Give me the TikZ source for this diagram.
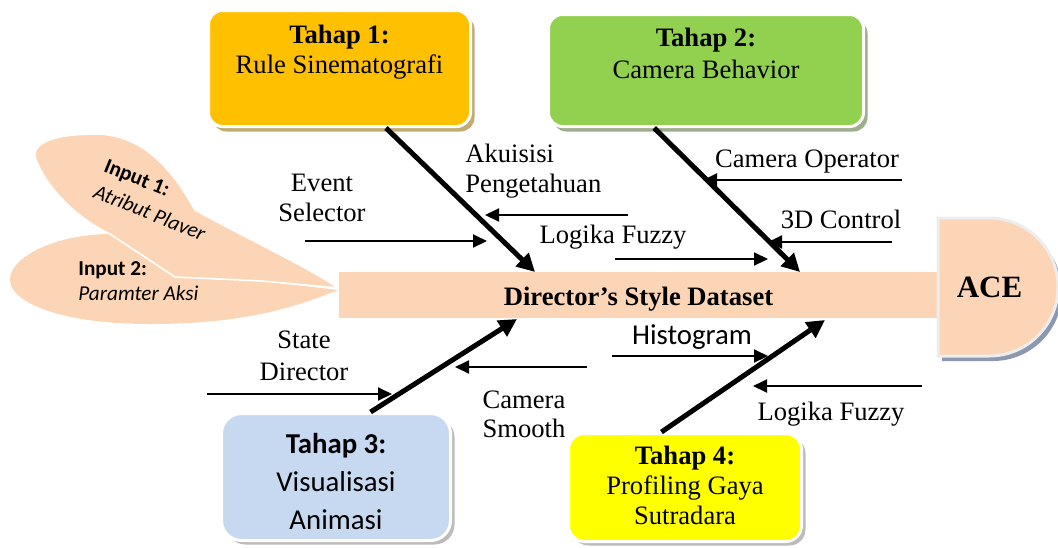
\documentclass[tikz,border=0pt]{standalone}
\usepackage{fontspec}
\setmainfont{Liberation Serif}
\newfontfamily\calibri{Carlito}
\usepackage{xcolor}
\usepackage{tikz}
\usetikzlibrary{arrows.meta,positioning,shadows}

\definecolor{peach}{HTML}{FBD5B5}
\definecolor{amber}{HTML}{FFC000}
\definecolor{leaf}{HTML}{92D050}
\definecolor{sky}{HTML}{C6D9F1}
\definecolor{lemon}{HTML}{FFFF00}
\definecolor{tanshadow}{HTML}{C2AA72}
\definecolor{sageshadow}{HTML}{9DAE8C}
\definecolor{greyshadow}{HTML}{ABABAB}
\definecolor{slateshadow}{HTML}{8C98B0}

\begin{document}
\begin{tikzpicture}[x=0.5pt, y=-0.5pt]

\tikzstyle{stage} = [draw=white, line width=1.5pt, inner sep=0pt]
\tikzstyle{serif} = [font=\fontsize{13.3}{15}\selectfont, inner sep=0pt, align=center]
\tikzstyle{sans} = [font=\calibri\fontsize{14.4}{19}\selectfont, inner sep=0pt, align=center]
\tikzstyle{input} = [font=\calibri\fontsize{10.6}{14}\selectfont, inner sep=0pt, align=left]
\tikzstyle{bone} = [line width=2.5pt, -{Triangle[length=9pt, width=9pt]}]
\tikzstyle{cause} = [line width=1pt, -{Triangle[length=7pt, width=6.5pt]}]

\useasboundingbox (0,0) rectangle (1058,547);

% tails
\fill[peach] (338,290) .. controls (300,305) and (250,324) .. (150,324) .. controls (60,324) and (10,302) .. (10,280) .. controls (10,255) and (60,234) .. (110,234) -- (175,277) -- (262,281) -- cycle;
\filldraw[fill=peach, draw=white, line width=0.8pt] (338,288) .. controls (310,268) and (240,235) .. (195,210) .. controls (170,165) and (140,134) .. (95,134) .. controls (50,134) and (28,145) .. (37,162) .. controls (48,190) and (80,220) .. (110,234) -- (175,277) -- (262,281) -- cycle;
\node[input, rotate=-22] (input1) at (155,200) {\textbf{Input 1:}\\\textit{Atribut Plaver}};
\node[input, anchor=west, font=\calibri\fontsize{10.6}{12.5}\selectfont] (input2) at (78,281.5) {\textbf{Input 2:}\\\textit{Paramter Aksi}};

% spine and head
\node[fill=peach, minimum width=299.5pt, minimum height=23pt, inner sep=0pt, text height=12pt, text depth=2pt, font=\bfseries\fontsize{13.3}{15}\selectfont] (spine) at (638.5,295) {Director's Style Dataset};
\fill[slateshadow] (942,223) -- (993,223) arc[start angle=-90, end angle=90, radius=69] -- (942,361) -- cycle;
\filldraw[fill=peach, draw=black!7, line width=1.5pt] (938,218) -- (989,218) arc[start angle=-90, end angle=90, radius=69] -- (938,356) -- cycle;
\node[font=\bfseries\fontsize{15.5}{18}\selectfont, inner sep=0pt] (ace) at (989.5,287.5) {ACE};

% stages
\node[stage, fill=amber, rounded corners=7pt, minimum width=131pt, minimum height=58pt, drop shadow={shadow xshift=2pt, shadow yshift=-2.5pt, fill=tanshadow, opacity=1}] (tahap1) at (339.5,68.5) {};
\node[serif, below=8pt of tahap1.north] (tahap1-text) {\textbf{Tahap 1:}\\Rule Sinematografi};
\node[stage, fill=leaf, rounded corners=7pt, minimum width=157.5pt, minimum height=56pt, drop shadow={shadow xshift=2pt, shadow yshift=-2.5pt, fill=sageshadow, opacity=1}] (tahap2) at (706,70.5) {};
\node[serif, below=7.5pt of tahap2.north, font=\fontsize{13.3}{16}\selectfont] (tahap2-text) {\textbf{Tahap 2:}\\Camera Behavior};
\node[stage, fill=sky, rounded corners=10pt, minimum width=114.5pt, minimum height=63.5pt, drop shadow={shadow xshift=2pt, shadow yshift=-2pt, fill=greyshadow, opacity=0.8}] (tahap3) at (336,477) {};
\node[sans, below=10.5pt of tahap3.north] (tahap3-text) {\textbf{Tahap 3:}\\Visualisasi\\Animasi};
\node[stage, fill=lemon, rounded corners=8pt, minimum width=116.5pt, minimum height=54pt, drop shadow={shadow xshift=2pt, shadow yshift=-2pt, fill=greyshadow, opacity=0.8}] (tahap4) at (685,487.5) {};
\node[serif, below=7pt of tahap4.north] (tahap4-text) {\textbf{Tahap 4:}\\Profiling Gaya\\Sutradara};

% bones
\coordinate (tip1) at (535,272);
\coordinate (tip2) at (800,272);
\coordinate (tip3) at (517,319);
\coordinate (tip4) at (825,320);
\draw[bone] (tahap1.-52.6) -- (tip1);
\draw[bone] (tahap2.-132) -- (tip2);
\draw[bone] (tahap3.62.4) -- (tip3);
\draw[bone] (tahap4.113.4) -- (tip4);

% causes
\node[serif] (event) at (322,197.5) {Event\\Selector};
\node[serif, align=left, anchor=west] (akuisisi) at (465,171) {Akuisisi\\Pengetahuan};
\node[serif] (fuzzy-top) at (613,237) {Logika Fuzzy};
\node[serif] (operator) at (807,161.5) {Camera Operator};
\node[serif] (control) at (841,219.5) {3D Control};
\node[serif, font=\fontsize{13.3}{16}\selectfont] (state) at (304,355.5) {State\\Director};
\node[serif, font=\fontsize{13.3}{14.5}\selectfont] (smooth) at (524,414) {Camera\\Smooth};
\node[sans] (histogram) at (692,337.5) {Histogram};
\node[serif] (fuzzy-bottom) at (831,414) {Logika Fuzzy};

\foreach \name/\xa/\xb/\yy in {event/305/487/241, akuisisi/628/485/215, fuzzy-top/615/768/259,
  operator/902/703/180, control/892/768/242, state/207/392/394, smooth/587/455/367,
  histogram/612/768/356, fuzzy-bottom/922/753/386}{
  \coordinate (\name-from) at (\xa,\yy);
  \coordinate (\name-to) at (\xb,\yy);
  \draw[cause] (\name-from) -- (\name-to);
}
\end{tikzpicture}
\end{document}
